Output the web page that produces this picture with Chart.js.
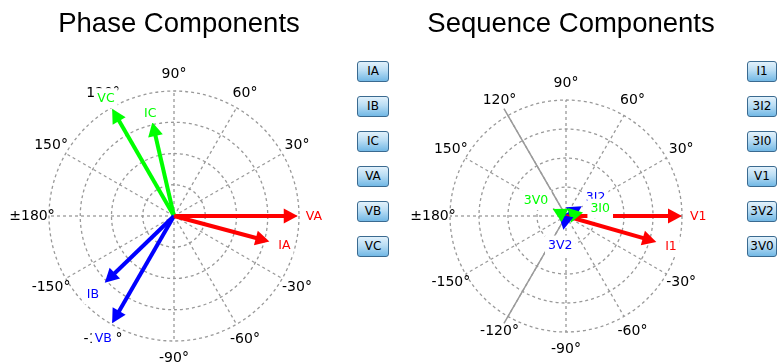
<!DOCTYPE html>
<html>
<head>
<meta charset="utf-8">
<script src="https://cdn.jsdelivr.net/npm/chart.js@4.4.1/dist/chart.umd.min.js"></script>
<style>
  html, body { margin: 0; padding: 0; background: #fff; width: 778px; height: 364px; overflow: hidden; }
  canvas { position: absolute; top: 0; }
  .btns { position: absolute; top: 61px; }
  .btn {
    box-sizing: border-box; height: 21px; margin-bottom: 14px;
    border: 1px solid #3a6a90; border-radius: 3px;
    background: linear-gradient(#e2f1fb, #b9ddf4 45%, #72b8e5);
    font: 12px "DejaVu Sans", sans-serif; color: #000;
    text-align: center; line-height: 19px;
  }
</style>
</head>
<body>
<canvas id="phaseChart" width="340" height="364" style="left:9px"></canvas>
<canvas id="seqChart" width="340" height="364" style="left:401px"></canvas>
<div class="btns" id="phaseBtns" style="left:357px;width:32px"></div>
<div class="btns" id="seqBtns" style="left:747px;width:30px"></div>
<script>
// Phase phasors (magnitude in per-unit of the outer ring, angle in degrees)
const phaseNames = ['IA', 'IB', 'IC', 'VA', 'VB', 'VC'];
const phaseMagnitudes = [0.79, 0.77, 0.77, 0.99, 0.99, 0.99];
const phaseAngles = [-15, -136, 103, 0, -120, 120];
const phaseColors = ['#ff0000', '#0000ff', '#00ff00', '#ff0000', '#0000ff', '#00ff00'];

// Sequence phasors
const seqNames = ['I1', '3I2', '3I0', 'V1', '3V2', '3V0'];
const seqMagnitudes = [0.81, 0.16, 0.15, 1.0, 0.12, 0.13];
const seqAngles = [-16, 32, 12, 0, -101, 152];
const seqColors = ['#ff0000', '#0000ff', '#00ff00', '#ff0000', '#0000ff', '#00ff00'];

// Sector boundary drawn on the sequence diagram
const boundaryAngles = [120, -120];
const boundaryLengths = [1.07, 1.07];

// Polar grid
const ringValues = [0.25, 0.5, 0.75, 1];
const spokeAngles = [0, 30, 60, 90, 120, 150, 180, -150, -120, -90, -60, -30];
const angleLabels = ['0°', '30°', '60°', '90°', '120°', '150°', '±180°', '-150°', '-120°', '-90°', '-60°', '-30°'];

const CANVAS_H = 364;
const TITLE_SIZE = 27.5;
const TITLE_PAD = { top: 8, bottom: 5 };
const TITLE_BOX = TITLE_SIZE * 1.2 + TITLE_PAD.top + TITLE_PAD.bottom;
const HEAD_LEN = 14;
const HEAD_W = 15;
const rad = d => d * Math.PI / 180;

const phasorPlugin = {
  id: 'phasor',
  afterDatasetsUpdate(chart) {
    // stop each shaft inside its arrowhead so the tip stays sharp
    chart.data.datasets.forEach((ds, i) => {
      if (!ds.arrow) return;
      const meta = chart.getDatasetMeta(i);
      const p0 = meta.data[0], p1 = meta.data[1];
      const dx = p1.x - p0.x, dy = p1.y - p0.y;
      const len = Math.hypot(dx, dy) || 1;
      meta.$tip = { x: p1.x, y: p1.y, ux: dx / len, uy: dy / len, len };
      const back = Math.min(HEAD_LEN * 0.7, len);
      p1.x -= dx / len * back;
      p1.y -= dy / len * back;
    });
  },
  beforeDatasetsDraw(chart) {
    const ctx = chart.ctx, xs = chart.scales.x, ys = chart.scales.y;
    const cx = xs.getPixelForValue(0), cy = ys.getPixelForValue(0);
    const R = xs.getPixelForValue(1) - cx;
    ctx.save();
    ctx.strokeStyle = '#999';
    ctx.lineWidth = 1.3;
    ctx.setLineDash([3, 3]);
    ringValues.forEach(v => {
      ctx.beginPath();
      ctx.arc(cx, cy, R * v, 0, Math.PI * 2);
      ctx.stroke();
    });
    spokeAngles.forEach(a => {
      ctx.beginPath();
      ctx.moveTo(cx, cy);
      ctx.lineTo(xs.getPixelForValue(Math.cos(rad(a))), ys.getPixelForValue(Math.sin(rad(a))));
      ctx.stroke();
    });
    ctx.setLineDash([]);
    ctx.fillStyle = '#000';
    ctx.font = '14px "DejaVu Sans"';
    ctx.textAlign = 'center';
    ctx.textBaseline = 'middle';
    spokeAngles.forEach((a, i) => {
      const r = R + 17;
      ctx.fillText(angleLabels[i], cx + r * Math.cos(rad(a)), cy - r * Math.sin(rad(a)));
    });
    ctx.restore();
  },
  afterDatasetsDraw(chart) {
    const ctx = chart.ctx;
    const arrows = [];
    chart.data.datasets.forEach((ds, i) => {
      if (!ds.arrow) return;
      arrows.push({ ds, t: chart.getDatasetMeta(i).$tip });
    });
    ctx.save();
    arrows.forEach(({ ds, t }) => {
      const bx = t.x - t.ux * HEAD_LEN, by = t.y - t.uy * HEAD_LEN;
      const nx = -t.uy * HEAD_W / 2, ny = t.ux * HEAD_W / 2;
      ctx.fillStyle = ds.borderColor;
      ctx.beginPath();
      ctx.moveTo(t.x, t.y);
      ctx.lineTo(bx + nx, by + ny);
      ctx.lineTo(bx - nx, by - ny);
      ctx.closePath();
      ctx.fill();
    });
    ctx.font = '12.5px "DejaVu Sans"';
    ctx.textAlign = 'center';
    ctx.textBaseline = 'middle';
    arrows.forEach(({ ds, t }) => {
      const w = ctx.measureText(ds.label).width, h = 12;
      const d = 8 + Math.abs(t.ux) * w / 2 + Math.max(0, t.uy) * h / 2;
      const lx = t.x + t.ux * d, ly = t.y + t.uy * d;
      ctx.fillStyle = '#fff';
      ctx.fillRect(lx - w / 2 - 3, ly - h / 2 - 4, w + 6, h + 8);
      ctx.fillStyle = ds.borderColor;
      ctx.fillText(ds.label, lx, ly + 0.5);
    });
    ctx.restore();
  }
};

function vectorDatasets(names, mags, angles, colors) {
  return names.map((n, i) => ({
    label: n,
    data: [{ x: 0, y: 0 }, { x: mags[i] * Math.cos(rad(angles[i])), y: mags[i] * Math.sin(rad(angles[i])) }],
    showLine: true,
    borderColor: colors[i],
    backgroundColor: colors[i],
    borderWidth: 4,
    pointRadius: 0,
    arrow: true,
    order: 1
  }));
}

function makeChart(id, title, datasets, g) {
  return new Chart(document.getElementById(id), {
    type: 'scatter',
    data: { datasets },
    options: {
      responsive: false,
      animation: false,
      events: [],
      layout: { padding: 0 },
      plugins: {
        legend: { display: false },
        tooltip: { enabled: false },
        title: {
          display: true, text: title, color: '#000',
          font: { family: 'Liberation Sans', size: TITLE_SIZE, weight: 'normal', lineHeight: 1.2 },
          padding: TITLE_PAD
        }
      },
      scales: {
        x: { type: 'linear', display: false, min: -(g.cx - g.left) / g.r, max: (g.left + g.width - g.cx) / g.r },
        y: { type: 'linear', display: false, min: -(CANVAS_H - g.cy) / g.r, max: (g.cy - TITLE_BOX) / g.r }
      }
    },
    plugins: [phasorPlugin]
  });
}

makeChart('phaseChart', 'Phase Components',
  vectorDatasets(phaseNames, phaseMagnitudes, phaseAngles, phaseColors),
  { left: 9, width: 340, cx: 174, cy: 216, r: 125 });

const seqSets = vectorDatasets(seqNames, seqMagnitudes, seqAngles, seqColors);
seqSets.push({
  label: 'boundary',
  data: [
    { x: boundaryLengths[0] * Math.cos(rad(boundaryAngles[0])), y: boundaryLengths[0] * Math.sin(rad(boundaryAngles[0])) },
    { x: 0, y: 0 },
    { x: boundaryLengths[1] * Math.cos(rad(boundaryAngles[1])), y: boundaryLengths[1] * Math.sin(rad(boundaryAngles[1])) }
  ],
  showLine: true,
  borderColor: '#9a9a9a',
  borderWidth: 1.5,
  pointRadius: 0,
  order: 5
});
makeChart('seqChart', 'Sequence Components', seqSets,
  { left: 401, width: 340, cx: 566, cy: 216, r: 116 });

// Trace toggle buttons
function buttons(id, names) {
  const host = document.getElementById(id);
  names.forEach(n => {
    const b = document.createElement('div');
    b.className = 'btn';
    b.textContent = n;
    host.appendChild(b);
  });
}
buttons('phaseBtns', phaseNames);
buttons('seqBtns', seqNames);
</script>
</body>
</html>
